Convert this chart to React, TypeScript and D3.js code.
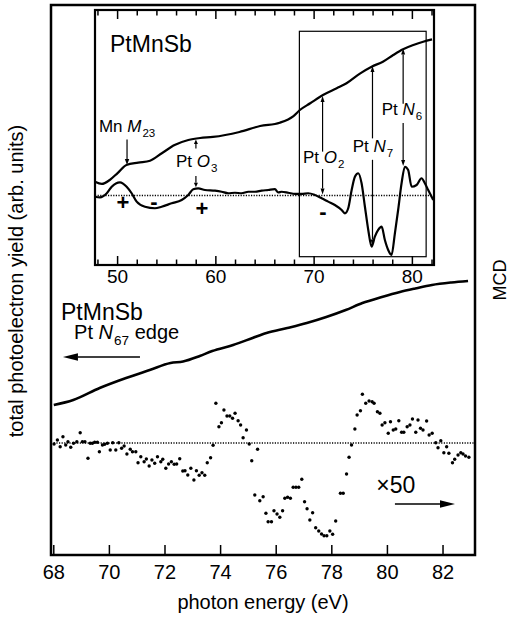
import React, { useEffect, useRef } from "react";
import * as d3 from "d3";

// inset: total yield over the wide scan (eV, arb. units)
const insetYieldEnergy = [47.7, 48.4, 49.2, 50.0, 50.9, 52.1, 53.3, 54.5, 55.8, 57.2, 58.4, 59.7, 62.4, 64.5, 66.5, 67.9, 68.55, 69.6, 70.9, 72.3, 73.3, 74.7, 75.85, 77.0, 78.05, 79.05, 80.1, 81.1, 82.0];
const insetYield = [1.35, 1.13, 1.52, 2.2, 2.99, 3.22, 3.41, 4.14, 4.95, 5.44, 5.64, 5.74, 6.23, 6.81, 7.14, 7.79, 8.38, 9.04, 9.85, 10.51, 11.0, 11.98, 12.63, 13.12, 13.77, 14.33, 14.75, 15.08, 15.31];

// inset: MCD over the wide scan
const insetMcdEnergy = [47.7, 48.2, 48.9, 49.4, 50.24, 50.92, 51.43, 51.94, 52.79, 53.8, 54.48, 55.5, 56.52, 57.19, 57.7, 58.21, 58.89, 59.91, 60.59, 61.26, 61.94, 62.62, 63.3, 63.98, 64.66, 65.33, 66.01, 66.35, 66.69, 67.37, 68.05, 68.73, 69.4, 70.08, 70.76, 71.43, 72.11, 72.8, 73.13, 73.47, 73.82, 74.15, 74.49, 74.83, 75.17, 75.51, 75.85, 76.18, 76.52, 76.87, 77.2, 77.54, 77.88, 78.22, 78.55, 78.9, 79.24, 79.57, 79.92, 80.43, 80.93, 81.27, 81.61, 82.12];
const insetMcd = [-0.12, -0.18, 0.22, 0.86, 1.29, 0.86, 0.22, -0.6, -1.1, -1.25, -1.1, -0.76, -0.44, 0.05, 0.61, 0.7, 0.54, 0.47, 0.37, 0.22, 0.27, 0.22, 0.37, 0.37, 0.47, 0.54, 0.62, 0.3, 0.37, 0.27, 0.15, 0.15, 0.22, 0.05, -0.27, -0.6, -0.93, -1.42, -1.75, -1.25, 0.54, 1.84, 2.18, 1.2, -1.1, -3.38, -5.02, -4.04, -3.38, -3.06, -4.36, -5.34, -5.83, -3.71, -1.42, 1.2, 2.82, 2.5, 0.86, 1.03, 1.69, 1.2, 0.54, -0.44];

// main panel: total yield near the Pt N67 edge
const mainYieldEnergy = [68.0, 68.7, 69.65, 70.6, 71.45, 72.2, 72.65, 73.25, 73.7, 74.45, 75.15, 75.65, 76.4, 77.1, 77.8, 78.5, 79.1, 79.8, 80.45, 81.0, 81.6, 82.3, 82.9];
const mainYield = [3.8, 4.3, 5.5, 6.5, 7.3, 8.0, 8.15, 8.7, 9.2, 9.8, 10.5, 11.0, 11.5, 12.0, 12.6, 13.3, 14.0, 14.6, 15.1, 15.45, 15.8, 16.05, 16.2];

// main panel: MCD x50 (dots)
const mcdEnergy = [68.01, 68.13, 68.23, 68.33, 68.43, 68.51, 68.61, 68.71, 68.83, 68.95, 69.03, 69.12, 69.23, 69.31, 69.39, 69.47, 69.57, 69.64, 69.75, 69.83, 69.93, 70.03, 70.12, 70.23, 70.34, 70.44, 70.53, 70.63, 70.75, 70.83, 70.95, 71.03, 71.13, 71.25, 71.33, 71.43, 71.53, 71.63, 71.73, 71.85, 71.92, 72.03, 72.13, 72.23, 72.33, 72.42, 72.53, 72.64, 72.72, 72.82, 72.93, 73.04,
  73.13, 73.23, 73.33, 73.43, 73.52, 73.64, 73.73, 73.83, 73.94, 74.03, 74.12, 74.23, 74.33, 74.43, 74.52, 74.63, 74.72, 74.81, 74.93, 75.03, 75.12, 75.23, 75.33, 75.41, 75.53, 75.63, 75.71, 75.83, 75.92, 76.03, 76.13, 76.23, 76.31, 76.41, 76.51, 76.61, 76.71, 76.81, 76.92, 77.02, 77.11, 77.21, 77.31, 77.42, 77.53, 77.63, 77.72, 77.82, 77.93, 78.03,
  78.14, 78.31, 78.41, 78.53, 78.62, 78.71, 78.83, 78.91, 79.03, 79.1, 79.22, 79.34, 79.45, 79.52, 79.64, 79.73, 79.81, 79.91, 80.03, 80.11, 80.21, 80.3, 80.41, 80.51, 80.59, 80.71, 80.81, 80.9, 81.02, 81.1, 81.19, 81.28, 81.41, 81.5, 81.61, 81.74, 81.82, 81.92, 82.03, 82.13, 82.21, 82.34, 82.42, 82.54, 82.64, 82.72, 82.81, 82.93];
const mcdValue = [-0.1, 0.3, -0.37, 0.63, -0.2, 0.13, -0.43, -0.03, 0.13, 1.03, 0.13, 0.13, -1.53, -0.03, -0.03, 0.07, 0.07, -0.87, -0.2, -0.13, -0.03, -0.7, 0.03, -0.7, 0.03, -0.53, -0.3, -1.1, -0.63, -0.87, -0.87, -1.97, -1.37, -1.87, -1.6, -2.3, -1.7, -2.03, -1.37, -1.87, -1.63, -2.53, -2.1, -1.87, -2.13, -2.1, -1.57, -2.8, -2.77, -3.2, -2.53, -3.7,
  -2.77, -3.23, -2.97, -3.23, -1.97, -1.47, -0.23, 3.97, 1.63, 2.03, 3.3, 2.7, 2.7, 2.47, 2.97, 2.23, 1.8, 0.53, 1.3, -0.1, -1.77, -5.2, -0.63, -5.77, -5.37, -7.03, -7.87, -7.87, -6.77, -7.1, -7.43, -6.77, -5.53, -5.43, -5.53, -4.43, -4.43, -4.43, -3.63, -5.87, -6.57, -7.7, -6.97, -8.47, -8.8, -9.1, -9.27, -9.27, -8.8, -9.13,
  -7.8, -5.03, -5.03, -3.1, -1.43, -0.2, 1.4, 2.8, 3.23, 4.87, 3.97, 4.2, 4.13, 3.97, 3.13, 2.97, 1.8, 2.03, 0.97, 2.13, 1.3, 1.4, 2.23, 1.07, 1.07, 1.63, 1.8, 2.4, 1.07, 2.3, 1.47, 1.3, 2.2, 0.8, 0.97, 0.03, -0.47, 0.23, -0.97, -0.37, -1.03, -1.97, -1.63, -1.2, -0.97, -1.1, -1.3, -1.43];

const mainTicks = [68, 70, 72, 74, 76, 78, 80, 82];
const insetTicks = [48, 50, 52, 54, 56, 58, 60, 62, 64, 66, 68, 70, 72, 74, 76, 78, 80, 82];
const insetLabels = [50, 60, 70, 80];

const FONT = "'Liberation Sans', Arial, Helvetica, sans-serif";

type G = d3.Selection<SVGGElement, unknown, null, undefined>;

// line with a filled triangular head at (x2, y2)
function arrow(g: G, x1: number, y1: number, x2: number, y2: number, len: number, half: number, w: number) {
  const a = Math.atan2(y2 - y1, x2 - x1);
  const bx = x2 - len * Math.cos(a);
  const by = y2 - len * Math.sin(a);
  g.append("line")
    .attr("x1", x1).attr("y1", y1).attr("x2", bx).attr("y2", by)
    .attr("stroke", "#000").attr("stroke-width", w);
  g.append("polygon")
    .attr("points", `${x2},${y2} ${bx + half * Math.sin(a)},${by - half * Math.cos(a)} ${bx - half * Math.sin(a)},${by + half * Math.cos(a)}`)
    .attr("fill", "#000");
}

// "Pt N_7" style label: plain prefix, italic letter, subscript
function subLabel(g: G, x: number, y: number, size: number, pre: string, it: string, sub: string, post = "") {
  const t = g.append("text").attr("x", x).attr("y", y).attr("font-size", size).attr("font-family", FONT);
  t.append("tspan").text(pre);
  t.append("tspan").attr("font-style", "italic").text(it);
  t.append("tspan").attr("font-size", size * 0.68).attr("dx", 1).attr("dy", size * 0.3).text(sub);
  if (post) t.append("tspan").attr("dy", -size * 0.3).text(post);
  return t;
}

const App = () => {
  const svgRef = useRef<SVGSVGElement>(null);

  useEffect(() => {
    const svg = d3.select(svgRef.current);
    svg.selectAll("*").remove();
    const root = svg.append("g") as unknown as G;

    // ---------- main panel ----------
    const x = d3.scaleLinear().domain([67.9, 83.15]).range([51, 475]);
    const y = d3.scaleLinear().domain([-11.2, 43.8]).range([555, 5]);

    root.append("rect")
      .attr("x", 51).attr("y", 5).attr("width", 424).attr("height", 550)
      .attr("fill", "none").attr("stroke", "#000").attr("stroke-width", 2.5);

    // bottom ticks + labels
    root.selectAll(".mtick").data(mainTicks).join("line")
      .attr("x1", (d) => x(d)).attr("x2", (d) => x(d))
      .attr("y1", 555).attr("y2", 545)
      .attr("stroke", "#000").attr("stroke-width", 1.5);
    root.selectAll(".mlab").data(mainTicks).join("text")
      .attr("x", (d) => x(d)).attr("y", 579)
      .attr("text-anchor", "middle").attr("font-size", 20).attr("font-family", FONT)
      .text((d) => d);

    root.append("text")
      .attr("x", 263).attr("y", 609).attr("text-anchor", "middle")
      .attr("font-size", 20).attr("font-family", FONT)
      .text("photon energy (eV)");
    root.append("text")
      .attr("transform", "translate(23,281) rotate(-90)").attr("text-anchor", "middle")
      .attr("font-size", 20).attr("font-family", FONT)
      .text("total photoelectron yield (arb. units)");
    root.append("text")
      .attr("transform", "translate(506,280) rotate(-90)").attr("text-anchor", "middle")
      .attr("font-size", 18).attr("font-family", FONT)
      .text("MCD");

    // zero line for MCD
    root.append("line")
      .attr("x1", x(68)).attr("x2", 474).attr("y1", y(0)).attr("y2", y(0))
      .attr("stroke", "#000").attr("stroke-width", 1.6).attr("stroke-dasharray", "1.2 1.4");

    const mainLine = d3.line<number>()
      .x((d, i) => x(mainYieldEnergy[i]))
      .y((d) => y(d))
      .curve(d3.curveMonotoneX);
    root.append("path")
      .attr("d", mainLine(mainYield))
      .attr("fill", "none").attr("stroke", "#000").attr("stroke-width", 2.6);

    root.selectAll(".dot").data(mcdValue).join("circle")
      .attr("cx", (d, i) => x(mcdEnergy[i]))
      .attr("cy", (d) => y(d))
      .attr("r", 1.7).attr("fill", "#000");

    root.append("text")
      .attr("x", x(68.26)).attr("y", y(12.3))
      .attr("font-size", 23).attr("font-family", FONT).text("PtMnSb");
    subLabel(root, x(68.73), y(10.4), 20, "Pt ", "N", "67", " edge");
    arrow(root, x(71.1), y(8.6), x(68.33), y(8.6), 15, 3.8, 1.6);

    root.append("text")
      .attr("x", x(79.6)).attr("y", y(-5.0))
      .attr("font-size", 23).attr("font-family", FONT).text("\u00d750");
    arrow(root, x(80.27), y(-6.1), x(82.43), y(-6.1), 15, 3.8, 1.6);

    // ---------- inset ----------
    const xi = d3.scaleLinear().domain([47.7, 82.2]).range([95, 434]);
    const yi = d3.scaleLinear().domain([0, 10]).range([195.5, 93.5]);
    const inset = root.append("g") as unknown as G;

    inset.append("rect")
      .attr("x", 95).attr("y", 10).attr("width", 339).attr("height", 255)
      .attr("fill", "#fff").attr("stroke", "#000").attr("stroke-width", 2.2);

    // zoomed window
    inset.append("rect")
      .attr("x", xi(68.5)).attr("y", yi(16.1))
      .attr("width", xi(81.4) - xi(68.5)).attr("height", yi(-6) - yi(16.1))
      .attr("fill", "none").attr("stroke", "#000").attr("stroke-width", 1.2);

    const tickLen = (d: number) => (d % 10 === 0 ? 9 : 5.5);
    inset.selectAll(".itb").data(insetTicks).join("line")
      .attr("x1", (d) => xi(d)).attr("x2", (d) => xi(d))
      .attr("y1", 265).attr("y2", (d) => 265 - tickLen(d))
      .attr("stroke", "#000").attr("stroke-width", 1.5);
    inset.selectAll(".itt").data(insetTicks).join("line")
      .attr("x1", (d) => xi(d)).attr("x2", (d) => xi(d))
      .attr("y1", 10).attr("y2", (d) => 10 + tickLen(d))
      .attr("stroke", "#000").attr("stroke-width", 1.5);
    inset.selectAll(".ilab").data(insetLabels).join("text")
      .attr("x", (d) => xi(d)).attr("y", 283)
      .attr("text-anchor", "middle").attr("font-size", 19).attr("font-family", FONT)
      .text((d) => d);

    inset.append("line")
      .attr("x1", 95).attr("x2", 434).attr("y1", yi(0)).attr("y2", yi(0))
      .attr("stroke", "#000").attr("stroke-width", 1.6).attr("stroke-dasharray", "1.2 1.4");

    const yieldLine = d3.line<number>()
      .x((d, i) => xi(insetYieldEnergy[i]))
      .y((d) => yi(d))
      .curve(d3.curveMonotoneX);
    inset.append("path")
      .attr("d", yieldLine(insetYield))
      .attr("fill", "none").attr("stroke", "#000").attr("stroke-width", 2.2);

    const mcdLine = d3.line<number>()
      .x((d, i) => xi(insetMcdEnergy[i]))
      .y((d) => yi(d))
      .curve(d3.curveMonotoneX);
    inset.append("path")
      .attr("d", mcdLine(insetMcd))
      .attr("fill", "none").attr("stroke", "#000").attr("stroke-width", 2.2);

    inset.append("text")
      .attr("x", 110).attr("y", 52)
      .attr("font-size", 23).attr("font-family", FONT).text("PtMnSb");

    // edge annotations
    subLabel(inset, xi(48.1), yi(6.23), 17, "Mn ", "M", "23");
    arrow(inset, xi(50.96), yi(5.5), xi(50.96), yi(3.0), 6, 2.2, 1.2);

    subLabel(inset, xi(55.94), yi(2.8), 17, "Pt ", "O", "3");
    arrow(inset, xi(57.97), yi(4.6), xi(57.97), yi(5.5), 4.5, 2, 1.2);
    arrow(inset, xi(57.97), yi(1.9), xi(57.97), yi(0.8), 4.5, 2, 1.2);

    subLabel(inset, xi(68.86), yi(3.19), 17, "Pt ", "O", "2");
    arrow(inset, xi(70.86), yi(4.3), xi(70.86), yi(9.75), 6, 2, 1.2);
    arrow(inset, xi(70.86), yi(2.6), xi(70.86), yi(0.1), 6, 2, 1.2);

    subLabel(inset, xi(73.93), yi(4.26), 17, "Pt ", "N", "7");
    arrow(inset, xi(75.94), yi(5.6), xi(75.94), yi(12.7), 6, 2, 1.2);
    arrow(inset, xi(75.94), yi(3.5), xi(75.94), yi(-4.9), 6, 2, 1.2);

    subLabel(inset, xi(76.88), yi(7.9), 17, "Pt ", "N", "6");
    arrow(inset, xi(79.06), yi(9.0), xi(79.06), yi(14.4), 6, 2, 1.2);
    arrow(inset, xi(79.06), yi(7.1), xi(79.06), yi(2.9), 6, 2, 1.2);

    // signs of the MCD lobes
    const signs: [number, number, string][] = [
      [50.55, -0.64, "+"], [53.7, -0.54, "-"], [58.59, -1.23, "+"], [70.9, -1.6, "-"],
    ];
    inset.selectAll(".sign").data(signs).join("text")
      .attr("x", (d) => xi(d[0])).attr("y", (d) => yi(d[1]))
      .attr("text-anchor", "middle").attr("dominant-baseline", "central")
      .attr("font-size", 22).attr("font-weight", "bold").attr("font-family", FONT)
      .text((d) => d[2]);
  }, []);

  return (
    <svg
      ref={svgRef}
      width={509}
      height={620}
      style={{ position: "absolute", left: 0, top: 0, background: "#fff" }}
    />
  );
};

export default App;
